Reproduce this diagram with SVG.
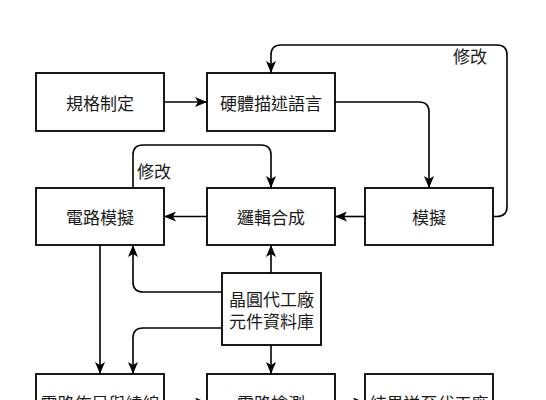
<svg xmlns="http://www.w3.org/2000/svg" width="546" height="400" viewBox="0 0 546 400">
<style>
.box{fill:#fff;stroke:#000;stroke-width:1.8}
.t{font-family:"Noto Sans CJK TC","Noto Sans CJK SC",sans-serif;font-size:17px;fill:#1a1a1a;text-anchor:middle;dominant-baseline:central}
.lbl{font-family:"Noto Sans CJK TC","Noto Sans CJK SC",sans-serif;font-size:17px;fill:#1a1a1a}
.c{fill:none;stroke:#000;stroke-width:1.6;marker-end:url(#ah)}
</style>
<defs>
<marker id="ah" viewBox="0 0 12 10" refX="12" refY="5" markerWidth="12" markerHeight="10" markerUnits="userSpaceOnUse" orient="auto">
<path d="M0,0 L12,5 L0,10 L3,5 Z" fill="#000"/>
</marker>
</defs>
<rect width="546" height="400" fill="#fff"/>
<g id="connectors">
<path class="c" d="M164,102 H207"/>
<path class="c" d="M335,102 H419 Q429,102 429,112 V188"/>
<path class="c" d="M365,216.5 H335"/>
<path class="c" d="M207,216.5 H164"/>
<path class="c" d="M493,216.5 H497 Q507,216.5 507,206.5 V55 Q507,45 497,45 H281 Q271,45 271,55 V73"/>
<path class="c" d="M133,188 V155 Q133,145 143,145 H261 Q271,145 271,155 V188"/>
<path class="c" d="M100,245 V374"/>
<path class="c" d="M222,292 H143 Q133,292 133,282 V245"/>
<path class="c" d="M222,328 H143 Q133,328 133,338 V374"/>
<path class="c" d="M271,273 V245"/>
<path class="c" d="M271,345 V374"/>
<path class="c" d="M164,402.5 H207"/>
<path class="c" d="M335,402.5 H365"/>
<text class="lbl" x="453" y="63">修改</text>
<text class="lbl" x="137" y="178">修改</text>
</g>
<g id="n1"><rect class="box" x="36" y="73" width="128" height="58"/><text class="t" x="100" y="102">規格制定</text></g>
<g id="n2"><rect class="box" x="207" y="73" width="128" height="58"/><text class="t" x="271" y="102">硬體描述語言</text></g>
<g id="n3"><rect class="box" x="36" y="188" width="128" height="57"/><text class="t" x="100" y="216.5">電路模擬</text></g>
<g id="n4"><rect class="box" x="207" y="188" width="128" height="57"/><text class="t" x="271" y="216.5">邏輯合成</text></g>
<g id="n5"><rect class="box" x="365" y="188" width="128" height="57"/><text class="t" x="429" y="216.5">模擬</text></g>
<g id="n6"><rect class="box" x="222" y="273" width="99" height="72"/><text class="t" x="271.5" y="298.5">晶圓代工廠</text><text class="t" x="271.5" y="320">元件資料庫</text></g>
<g id="n7"><rect class="box" x="36" y="374" width="128" height="57"/><text class="t" x="100" y="402.5">電路佈局與繞線</text></g>
<g id="n8"><rect class="box" x="207" y="374" width="128" height="57"/><text class="t" x="271" y="402.5">電路檢測</text></g>
<g id="n9"><rect class="box" x="365" y="374" width="128" height="57"/><text class="t" x="429" y="402.5">結果送至代工廠</text></g>
</svg>
